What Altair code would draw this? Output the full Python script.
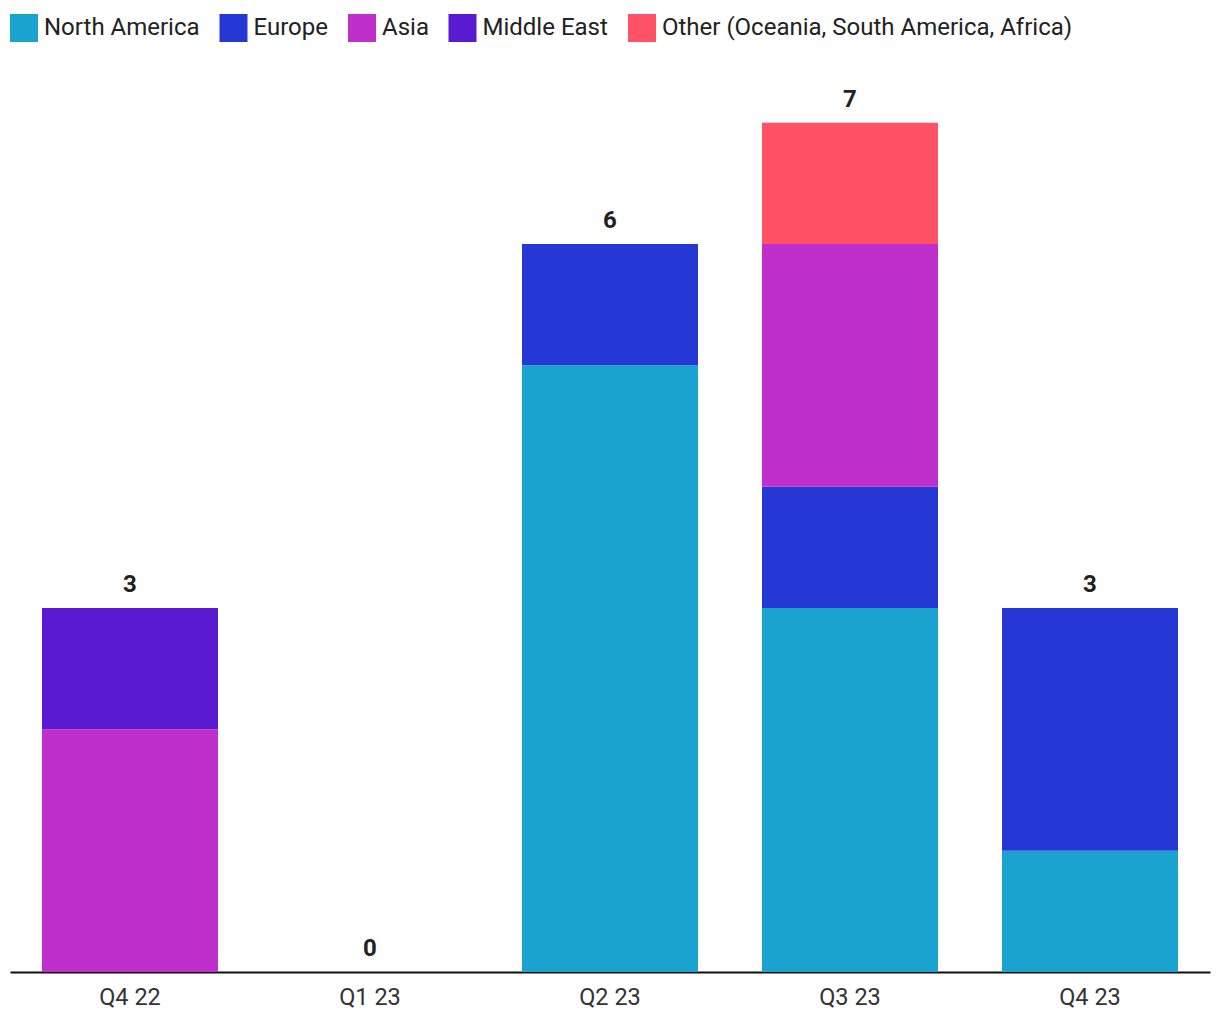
import altair as alt
import pandas as pd

quarters = ["Q4 22", "Q1 23", "Q2 23", "Q3 23", "Q4 23"]
regions = ["North America", "Europe", "Asia", "Middle East", "Other (Oceania, South America, Africa)"]
colors = ["#1AA3CE", "#2538D5", "#BF2FCB", "#5A1AD1", "#FF5266"]

north_america = [0, 0, 5, 3, 1]
europe = [0, 0, 1, 1, 2]
asia = [2, 0, 0, 2, 0]
middle_east = [1, 0, 0, 0, 0]
other = [0, 0, 0, 1, 0]

series = [north_america, europe, asia, middle_east, other]
rows = []
for ri, (reg, vals) in enumerate(zip(regions, series)):
    for q, v in zip(quarters, vals):
        rows.append({"quarter": q, "region": reg, "value": v, "order": ri})
df = pd.DataFrame(rows)

totals = pd.DataFrame({"quarter": quarters,
                       "total": [sum(s[i] for s in series) for i in range(len(quarters))]})

xenc = alt.X("quarter:N", sort=quarters, title=None,
             scale=alt.Scale(paddingInner=0.2667, paddingOuter=0.1333),
             axis=alt.Axis(labelAngle=0, labelFontSize=23.5, labelColor="#333333",
                           labelFont="Roboto", ticks=False, labelPadding=13,
                           domainColor="#111111", domainWidth=2))

bars = alt.Chart(df).mark_bar().encode(
    x=xenc,
    y=alt.Y("value:Q", stack="zero", scale=alt.Scale(domain=[0, 7.5], nice=False),
            axis=None, title=None),
    color=alt.Color("region:N", sort=regions,
                    scale=alt.Scale(domain=regions, range=colors),
                    legend=alt.Legend(orient="none", legendX=0, legendY=-48,
                                      direction="horizontal", title=None,
                                      symbolType="square", symbolSize=784,
                                      symbolStrokeWidth=0, symbolOpacity=1,
                                      labelFontSize=24, labelFont="Roboto",
                                      labelColor="#222222", labelOffset=6,
                                      columnPadding=19.5, labelLimit=600)),
    order=alt.Order("order:Q"),
)

labels = alt.Chart(totals).mark_text(baseline="alphabetic", dy=-16, fontSize=24,
                                     fontWeight="bold", font="Roboto",
                                     color="#222222").encode(
    x=alt.X("quarter:N", sort=quarters),
    y=alt.Y("total:Q"),
    text="total:Q",
)

chart = alt.layer(bars, labels).properties(
    width=1200, height=910,
    padding={"left": 2, "top": 54, "right": 2, "bottom": 40},
    autosize=alt.AutoSizeParams(type="none"),
).configure_view(stroke=None)

chart.save("out.html", embed_options={"renderer": "svg", "actions": False})
